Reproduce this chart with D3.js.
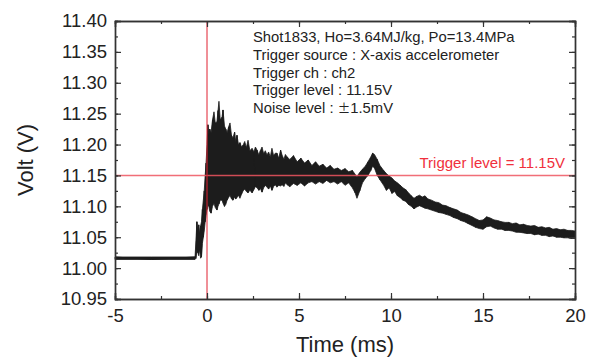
<!DOCTYPE html>
<html>
<head>
<meta charset="utf-8">
<script src="https://cdn.jsdelivr.net/npm/d3@7"></script>
<style>
  body { margin: 0; background: #fff; }
  text { font-family: "Liberation Sans", Arial, sans-serif; fill: #222; }
</style>
</head>
<body>
<script>
// trace: time (ms) with upper and lower voltage (V) of the noisy band
const timeMs = [-5.0, -3.0, -0.65, -0.60, -0.55, -0.50, -0.45, -0.40, -0.35, -0.30, -0.25, -0.20, -0.15, -0.10, -0.05,
  0.00, 0.05, 0.10, 0.15, 0.22, 0.30, 0.38, 0.45, 0.54, 0.60, 0.65, 0.72, 0.82, 0.87, 0.95, 1.02, 1.09, 1.17, 1.25, 1.33,
  1.41, 1.50, 1.56, 1.63, 1.71, 1.79, 1.88, 1.96, 2.05, 2.14, 2.23, 2.33, 2.45, 2.55, 2.63, 2.72, 2.82, 2.90, 2.99, 3.08,
  3.17, 3.26, 3.35, 3.44, 3.53, 3.62, 3.71, 3.80, 3.90, 4.00, 4.08, 4.18, 4.26, 4.35, 4.50, 4.70, 4.90, 5.10, 5.30, 5.50,
  5.70, 5.90, 6.10, 6.30, 6.50, 6.70, 6.90, 7.10, 7.30, 7.50, 7.70, 7.90, 8.05, 8.15, 8.30, 8.45, 8.60, 8.75, 8.90, 9.00,
  9.10, 9.25, 9.40, 9.60, 9.75, 9.90, 10.05, 10.20, 10.35, 10.50, 10.65, 10.80, 10.95, 11.10, 11.25, 11.40, 11.55, 11.70,
  11.85, 12.00, 12.20, 12.40, 12.60, 12.80, 13.00, 13.20, 13.40, 13.60, 13.80, 14.00, 14.20, 14.40, 14.60, 14.80, 15.00,
  15.20, 15.40, 15.60, 15.80, 16.00, 16.20, 16.40, 16.60, 16.80, 17.00, 17.20, 17.40, 17.60, 17.80, 18.00, 18.20, 18.40,
  18.60, 18.80, 19.00, 19.20, 19.40, 19.60, 19.80, 20.00];
const voltHi = [11.018, 11.018, 11.018, 11.045, 11.075, 11.060, 11.070, 11.055, 11.068, 11.075, 11.095, 11.110, 11.125, 11.150, 11.170,
  11.200, 11.232, 11.215, 11.225, 11.219, 11.240, 11.253, 11.235, 11.237, 11.255, 11.270, 11.240, 11.245, 11.256, 11.230, 11.225, 11.219, 11.228, 11.235, 11.215,
  11.211, 11.220, 11.205, 11.215, 11.200, 11.203, 11.196, 11.199, 11.205, 11.195, 11.207, 11.190, 11.194, 11.188, 11.196, 11.191, 11.183, 11.190, 11.196, 11.185,
  11.190, 11.183, 11.188, 11.180, 11.194, 11.182, 11.186, 11.186, 11.178, 11.191, 11.183, 11.176, 11.184, 11.180, 11.176, 11.182, 11.172, 11.178, 11.170, 11.175,
  11.166, 11.172, 11.165, 11.168, 11.162, 11.166, 11.160, 11.162, 11.158, 11.161, 11.156, 11.158, 11.152, 11.148, 11.155, 11.160, 11.165, 11.172, 11.180, 11.186,
  11.184, 11.176, 11.166, 11.158, 11.153, 11.149, 11.146, 11.141, 11.138, 11.134, 11.130, 11.127, 11.122, 11.117, 11.113, 11.116, 11.118, 11.115,
  11.117, 11.112, 11.110, 11.107, 11.106, 11.102, 11.101, 11.098, 11.096, 11.094, 11.090, 11.088, 11.086, 11.083, 11.080, 11.077, 11.078,
  11.083, 11.081, 11.078, 11.077, 11.075, 11.074, 11.074, 11.072, 11.073, 11.070, 11.071, 11.069, 11.068, 11.069, 11.066, 11.067, 11.065,
  11.066, 11.063, 11.064, 11.062, 11.063, 11.061, 11.061, 11.060];
const voltLo = [11.014, 11.014, 11.014, 11.016, 11.030, 11.025, 11.020, 11.030, 11.016, 11.018, 11.040, 11.050, 11.060, 11.075, 11.085,
  11.095, 11.110, 11.100, 11.092, 11.089, 11.100, 11.105, 11.098, 11.094, 11.100, 11.104, 11.110, 11.110, 11.105, 11.100, 11.103, 11.110, 11.114, 11.118, 11.112,
  11.110, 11.115, 11.112, 11.114, 11.118, 11.113, 11.120, 11.125, 11.128, 11.124, 11.122, 11.126, 11.122, 11.127, 11.132, 11.130, 11.126, 11.129, 11.123, 11.130,
  11.134, 11.131, 11.128, 11.133, 11.126, 11.132, 11.135, 11.131, 11.134, 11.133, 11.135, 11.132, 11.138, 11.135, 11.132, 11.137, 11.134, 11.138, 11.133, 11.138,
  11.140, 11.136, 11.140, 11.137, 11.142, 11.138, 11.140, 11.136, 11.140, 11.134, 11.138, 11.130, 11.122, 11.113, 11.125, 11.138, 11.145, 11.150, 11.158, 11.165,
  11.162, 11.150, 11.143, 11.134, 11.126, 11.130, 11.121, 11.124, 11.117, 11.114, 11.110, 11.108, 11.103, 11.100, 11.096, 11.099, 11.101, 11.099,
  11.097, 11.096, 11.094, 11.092, 11.090, 11.089, 11.087, 11.085, 11.082, 11.080, 11.077, 11.075, 11.072, 11.069, 11.066, 11.064, 11.063,
  11.067, 11.068, 11.065, 11.063, 11.063, 11.061, 11.061, 11.060, 11.058, 11.058, 11.057, 11.056, 11.056, 11.054, 11.055, 11.053, 11.053,
  11.051, 11.052, 11.050, 11.050, 11.049, 11.049, 11.048, 11.048];

const xTicks = [-5, 0, 5, 10, 15, 20];
const yTicks = [10.95, 11.00, 11.05, 11.10, 11.15, 11.20, 11.25, 11.30, 11.35, 11.40];
const triggerLevel = 11.15;
const triggerTime = 0;
const notes = ["Shot1833, Ho=3.64MJ/kg, Po=13.4MPa", "Trigger source : X-axis accelerometer",
  "Trigger ch : ch2", "Trigger level : 11.15V", "Noise level : "];

const w = 594, h = 360;
const m = {left: 115, right: 19, top: 21, bottom: 61};

const svg = d3.select("body").append("svg").attr("width", w).attr("height", h);

const x = d3.scaleLinear().domain([-5, 20]).range([m.left, w - m.right]);
const y = d3.scaleLinear().domain([10.95, 11.40]).range([h - m.bottom, m.top]);

const data = timeMs.map((t, i) => ({t: t, hi: voltHi[i], lo: voltLo[i]}));

// the noisy trace: filled band plus a zigzag between its edges
const area = d3.area().x(d => x(d.t)).y0(d => y(d.lo)).y1(d => y(d.hi));
svg.append("path").datum(data)
  .attr("d", area)
  .attr("fill", "#1c1c1c")
  .attr("stroke", "#1c1c1c")
  .attr("stroke-width", 0.8);

const zig = data.map((d, i) => [d.t, i % 2 ? d.lo : d.hi]);
svg.append("path").datum(zig)
  .attr("d", d3.line().x(d => x(d[0])).y(d => y(d[1])))
  .attr("fill", "none").attr("stroke", "#1c1c1c").attr("stroke-width", 1);

// trigger lines
svg.append("line")
  .attr("x1", x(-5)).attr("x2", x(20))
  .attr("y1", y(triggerLevel)).attr("y2", y(triggerLevel))
  .attr("stroke", "#ee5560").attr("stroke-opacity", 0.85).attr("stroke-width", 1.5);
svg.append("line")
  .attr("x1", x(triggerTime)).attr("x2", x(triggerTime))
  .attr("y1", y(11.40)).attr("y2", y(10.95))
  .attr("stroke", "#e02030").attr("stroke-width", 1);

svg.append("text")
  .attr("x", w - m.right - 10).attr("y", y(triggerLevel) - 7)
  .attr("text-anchor", "end")
  .style("font-size", "15px").style("fill", "#f0303c")
  .text("Trigger level = 11.15V");

// axes, ticks pointing inward, mirrored on top and right
const xMinor = d3.range(-5, 20.01, 2.5);
const yMinor = d3.range(10.95, 11.401, 0.025);

svg.append("g").attr("transform", `translate(0,${h - m.bottom})`)
  .call(d3.axisBottom(x).tickValues(xMinor).tickSize(-3).tickFormat(""));
svg.append("g").attr("transform", `translate(0,${h - m.bottom})`)
  .call(d3.axisBottom(x).tickValues(xTicks).tickSize(-6).tickPadding(10).tickFormat(d => String(d)));
svg.append("g").attr("transform", `translate(0,${m.top})`)
  .call(d3.axisTop(x).tickValues(xMinor).tickSize(-3).tickFormat(""));
svg.append("g").attr("transform", `translate(0,${m.top})`)
  .call(d3.axisTop(x).tickValues(xTicks).tickSize(-6).tickFormat(""));

svg.append("g").attr("transform", `translate(${m.left},0)`)
  .call(d3.axisLeft(y).tickValues(yMinor).tickSize(-3).tickFormat(""));
svg.append("g").attr("transform", `translate(${m.left},0)`)
  .call(d3.axisLeft(y).tickValues(yTicks).tickSize(-6).tickPadding(8).tickFormat(d3.format(".2f")));
svg.append("g").attr("transform", `translate(${w - m.right},0)`)
  .call(d3.axisRight(y).tickValues(yMinor).tickSize(-3).tickFormat(""));
svg.append("g").attr("transform", `translate(${w - m.right},0)`)
  .call(d3.axisRight(y).tickValues(yTicks).tickSize(-6).tickFormat(""));

svg.selectAll(".domain").attr("stroke", "#333").attr("stroke-width", 1.4);
svg.selectAll(".tick line").attr("stroke", "#333").attr("stroke-width", 1.2);
svg.selectAll(".tick text").style("font-size", "18.5px").style("fill", "#222")
  .style("font-family", "'Liberation Sans', Arial, sans-serif");

// annotation block
const noteText = svg.append("g").selectAll("text").data(notes).enter().append("text")
  .attr("x", 253).attr("y", (d, i) => 42 + i * 17.8)
  .style("font-size", "14.8px")
  .text(d => d);
const last = noteText.filter((d, i) => i === notes.length - 1);
last.append("tspan").style("font-family", "'Noto Sans CJK JP'").style("font-size", "12.5px").text("\u00b1");
last.append("tspan").text("1.5mV");

// axis titles
svg.append("text")
  .attr("x", x(7.5)).attr("y", 352)
  .attr("text-anchor", "middle")
  .style("font-size", "22px")
  .text("Time (ms)");
svg.append("text")
  .attr("transform", `translate(33,${(m.top + h - m.bottom) / 2}) rotate(-90)`)
  .attr("text-anchor", "middle")
  .style("font-size", "22px")
  .text("Volt (V)");
</script>
</body>
</html>
